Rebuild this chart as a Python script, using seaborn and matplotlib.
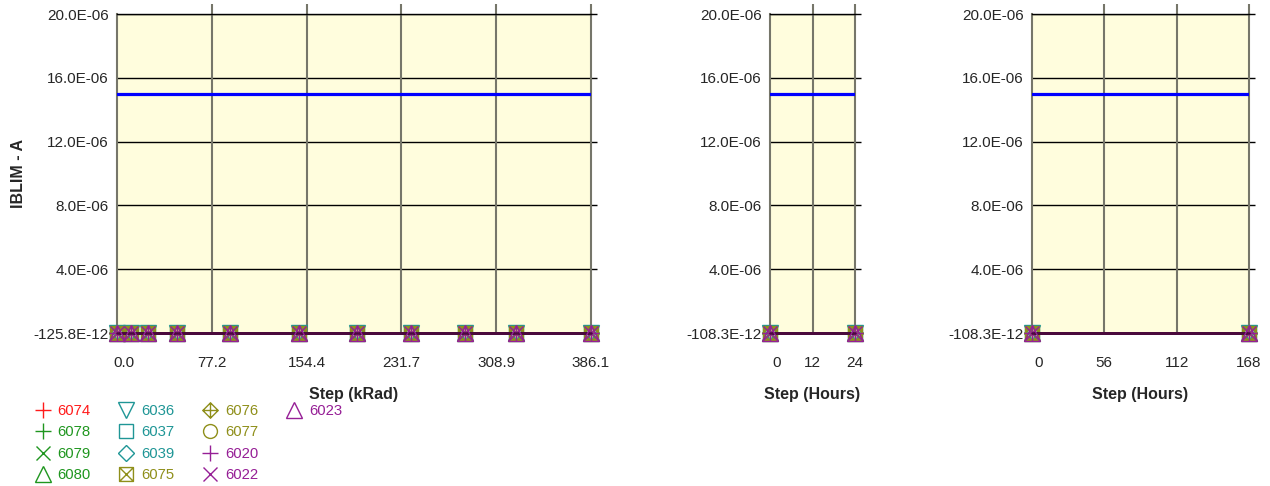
import numpy as np
import pandas as pd
import matplotlib
matplotlib.use("Agg")
import matplotlib.pyplot as plt
from matplotlib.path import Path
from matplotlib.lines import Line2D
from matplotlib.transforms import ScaledTranslation
import seaborn as sns

# ---- data -------------------------------------------------------------
SERIES = ["6074", "6078", "6079", "6080", "6036", "6037", "6039",
          "6075", "6076", "6077", "6020", "6022", "6023"]

STEPS_KRAD = [0.0, 11.0, 25.0, 48.6, 92.0, 148.0, 195.7, 239.8, 283.2, 324.9, 386.1]
STEPS_H24 = [0, 24]
STEPS_H168 = [0, 168]

# IBLIM readings in pA (all sit at the floor of the scale)
IBLIM_KRAD_PA = {
    "6074": [-98.0, -101.2, -99.5, -102.0, -97.8, -100.4, -103.1, -99.9, -101.7, -98.6, -100.8],
    "6078": [-110.2, -108.7, -111.5, -109.0, -112.3, -110.8, -109.4, -111.9, -108.1, -110.6, -109.7],
    "6079": [-104.5, -106.0, -103.2, -105.7, -104.9, -106.8, -103.7, -105.1, -104.0, -106.3, -105.5],
    "6080": [-115.6, -117.1, -114.8, -116.9, -118.0, -115.2, -117.5, -116.3, -114.9, -117.8, -116.0],
    "6036": [-120.1, -121.8, -119.5, -122.4, -120.9, -121.2, -119.8, -122.0, -120.6, -121.5, -120.3],
    "6037": [-93.4, -95.0, -92.7, -94.6, -96.1, -93.9, -95.5, -94.2, -92.9, -95.8, -94.0],
    "6039": [-88.7, -90.3, -87.9, -89.6, -91.0, -88.2, -90.7, -89.1, -87.6, -90.0, -88.9],
    "6075": [-125.8, -123.9, -124.6, -125.1, -123.5, -124.9, -125.3, -124.1, -123.7, -125.0, -124.4],
    "6076": [-102.9, -104.1, -101.6, -103.8, -102.2, -104.7, -101.9, -103.3, -102.6, -104.4, -103.0],
    "6077": [-112.8, -114.0, -111.9, -113.6, -115.2, -112.4, -114.5, -113.1, -111.7, -114.8, -113.3],
    "6020": [-96.5, -98.1, -95.7, -97.4, -99.0, -96.1, -98.6, -97.0, -95.4, -98.9, -96.8],
    "6022": [-107.3, -108.9, -106.5, -108.2, -109.6, -107.0, -108.5, -107.7, -106.2, -109.1, -107.9],
    "6023": [-118.4, -119.7, -117.6, -119.2, -120.5, -118.0, -119.9, -118.8, -117.3, -120.2, -118.6],
}
IBLIM_H24_PA = {
    "6074": [-95.2, -97.0], "6078": [-101.4, -99.8], "6079": [-104.6, -103.1],
    "6080": [-98.7, -100.3], "6036": [-106.2, -104.9], "6037": [-92.8, -94.5],
    "6039": [-90.1, -91.7], "6075": [-108.3, -107.1], "6076": [-99.4, -98.2],
    "6077": [-102.7, -101.0], "6020": [-96.9, -95.6], "6022": [-103.8, -105.2],
    "6023": [-100.6, -102.2],
}
IBLIM_H168_PA = {
    "6074": [-95.2, -96.4], "6078": [-101.4, -100.7], "6079": [-104.6, -102.5],
    "6080": [-98.7, -99.9], "6036": [-106.2, -105.3], "6037": [-92.8, -93.6],
    "6039": [-90.1, -92.0], "6075": [-108.3, -106.8], "6076": [-99.4, -97.7],
    "6077": [-102.7, -103.5], "6020": [-96.9, -94.8], "6022": [-103.8, -104.6],
    "6023": [-100.6, -101.9],
}

IBLIM_LIMIT = 15e-6

KRAD_TICKS = [0.0, 77.2, 154.4, 231.7, 308.9, 386.1]
KRAD_TICKLABELS = ["0.0", "77.2", "154.4", "231.7", "308.9", "386.1"]
H24_TICKS = [0, 12, 24]
H168_TICKS = [0, 56, 112, 168]
Y_TICKS_UPPER = [4e-6, 8e-6, 12e-6, 16e-6, 20e-6]
Y_TICKLABELS_UPPER = ["4.0E-06", "8.0E-06", "12.0E-06", "16.0E-06", "20.0E-06"]
Y_FLOOR_KRAD = -125.8e-12
Y_FLOOR_HOURS = -108.3e-12
Y_FLOOR_KRAD_LABEL = "-125.8E-12"
Y_FLOOR_HOURS_LABEL = "-108.3E-12"

# ---- styling ------------------------------------------------------------
RED = "#ff1a1a"
GREEN = "#1f961f"
TEAL = "#1f9696"
OLIVE = "#8f8f1a"
PURPLE = "#961f96"

boxed_x = Path(
    [(-1, -1), (1, -1), (1, 1), (-1, 1), (-1, -1),
     (-1, -1), (1, 1), (-1, 1), (1, -1)],
    [Path.MOVETO, Path.LINETO, Path.LINETO, Path.LINETO, Path.CLOSEPOLY,
     Path.MOVETO, Path.LINETO, Path.MOVETO, Path.LINETO])
diamond_plus = Path(
    [(0, -1), (1, 0), (0, 1), (-1, 0), (0, -1),
     (0, -1), (0, 1), (-1, 0), (1, 0)],
    [Path.MOVETO, Path.LINETO, Path.LINETO, Path.LINETO, Path.CLOSEPOLY,
     Path.MOVETO, Path.LINETO, Path.MOVETO, Path.LINETO])

STYLE = {
    "6074": (RED, "+", 11), "6078": (GREEN, "+", 11), "6079": (GREEN, "x", 10),
    "6080": (GREEN, "^", 11), "6036": (TEAL, "v", 11), "6037": (TEAL, "s", 10),
    "6039": (TEAL, "D", 8), "6075": (OLIVE, boxed_x, 10), "6076": (OLIVE, diamond_plus, 11),
    "6077": (OLIVE, "o", 10), "6020": (PURPLE, "+", 11), "6022": (PURPLE, "x", 10),
    "6023": (PURPLE, "^", 11),
}

TRACE_COLOR = "#4a0a3c"
LIMIT_COLOR = "#0000ff"
PANEL_BG = "#fffddd"
VGRID = "#76766a"

sns.set_style("white")
plt.rcParams["font.family"] = ["Liberation Sans", "DejaVu Sans"]
plt.rcParams["font.size"] = 11

fig = plt.figure(figsize=(12.7, 4.86), dpi=100)
W, H = 1270, 486
top_px, bot_px = 14, 333


def add_panel(left_px, right_px):
    return fig.add_axes([left_px / W, 1 - bot_px / H,
                         (right_px - left_px) / W, (bot_px - top_px) / H])


ax1 = add_panel(117, 591)
ax2 = add_panel(770, 855)
ax3 = add_panel(1032, 1249)


def long_frame(steps, readings):
    rows = []
    for s in SERIES:
        for x, v in zip(steps, readings[s]):
            rows.append({"series": s, "step": x, "iblim": v * 1e-12})
    return pd.DataFrame(rows)


def draw_panel(ax, df, xticks, xticklabels, floor, floor_label, xlabel, ylabel=None):
    ax.set_facecolor(PANEL_BG)
    ax.axhline(IBLIM_LIMIT, color=LIMIT_COLOR, lw=2.3, zorder=3)
    for s in SERIES:
        color, marker, ms = STYLE[s]
        sub = df[df["series"] == s]
        sns.lineplot(data=sub, x="step", y="iblim", ax=ax, color=TRACE_COLOR,
                     lw=1.8, marker=marker, markersize=ms, markerfacecolor="none",
                     markeredgecolor=color, markeredgewidth=1.0,
                     estimator=None, errorbar=None, sort=False,
                     legend=False, zorder=4, clip_on=False)
    ax.set_xlim(xticks[0], xticks[-1])
    ax.set_ylim(floor, Y_TICKS_UPPER[-1])
    ax.set_xticks(xticks)
    ax.set_xticklabels(xticklabels)
    ax.set_yticks([floor] + Y_TICKS_UPPER)
    ax.set_yticklabels([floor_label] + Y_TICKLABELS_UPPER)
    for y in Y_TICKS_UPPER:
        ax.axhline(y, color="black", lw=1.0, zorder=1)
    for x in xticks[1:-1]:
        ax.axvline(x, color=VGRID, lw=1.5, zorder=1)
    for side in ("left", "right"):
        ax.spines[side].set_color(VGRID)
        ax.spines[side].set_linewidth(1.5)
    ax.spines["top"].set_color("black")
    ax.spines["top"].set_linewidth(1.0)
    ax.spines["bottom"].set_color(TRACE_COLOR)
    ax.tick_params(axis="x", bottom=False, top=True, direction="out",
                   length=7, width=1.5, color=VGRID, pad=9.5, labelsize=11)
    ax.tick_params(axis="y", left=False, right=True, direction="out",
                   length=4.5, width=1.0, color="black", pad=1.5, labelsize=11)
    ax.xaxis.get_major_ticks()[0].tick2line.set_visible(False)
    ax.yaxis.get_major_ticks()[0].tick2line.set_visible(False)
    ax.set_xlabel(xlabel, fontweight="bold", fontsize=11.5, labelpad=12.5)
    if ylabel:
        ax.set_ylabel(ylabel, fontweight="bold", fontsize=11.5, labelpad=5)
    else:
        ax.set_ylabel("")
    # nudge the first x label clear of the y-axis labels
    first = ax.get_xticklabels()[0]
    first.set_transform(first.get_transform() +
                        ScaledTranslation(7 / 100, 0, fig.dpi_scale_trans))


draw_panel(ax1, long_frame(STEPS_KRAD, IBLIM_KRAD_PA), KRAD_TICKS, KRAD_TICKLABELS,
           Y_FLOOR_KRAD, Y_FLOOR_KRAD_LABEL, "Step (kRad)", "IBLIM - A")
draw_panel(ax2, long_frame(STEPS_H24, IBLIM_H24_PA), H24_TICKS,
           [str(t) for t in H24_TICKS], Y_FLOOR_HOURS, Y_FLOOR_HOURS_LABEL, "Step (Hours)")
draw_panel(ax3, long_frame(STEPS_H168, IBLIM_H168_PA), H168_TICKS,
           [str(t) for t in H168_TICKS], Y_FLOOR_HOURS, Y_FLOOR_HOURS_LABEL, "Step (Hours)")

# ---- legend: four rows, filled column by column ---------------------------
handles, labels = [], []
for s in SERIES:
    color, marker, ms = STYLE[s]
    handles.append(Line2D([], [], ls="none", marker=marker, markersize=ms,
                          markerfacecolor="none", markeredgecolor=color,
                          markeredgewidth=1.0))
    labels.append(s)
for _ in range(3):
    handles.append(Line2D([], [], ls="none"))
    labels.append("")

leg = fig.legend(handles, labels, loc="upper left", bbox_to_anchor=(33 / W, 1 - 404 / H),
                 ncol=4, frameon=False, fontsize=10.7, handlelength=1.3,
                 handletextpad=0.35, columnspacing=1.75, labelspacing=0.5,
                 borderaxespad=0, borderpad=0)
for text, s in zip(leg.get_texts(), labels):
    if s:
        text.set_color(STYLE[s][0])

fig.savefig("out.png", dpi=100)
